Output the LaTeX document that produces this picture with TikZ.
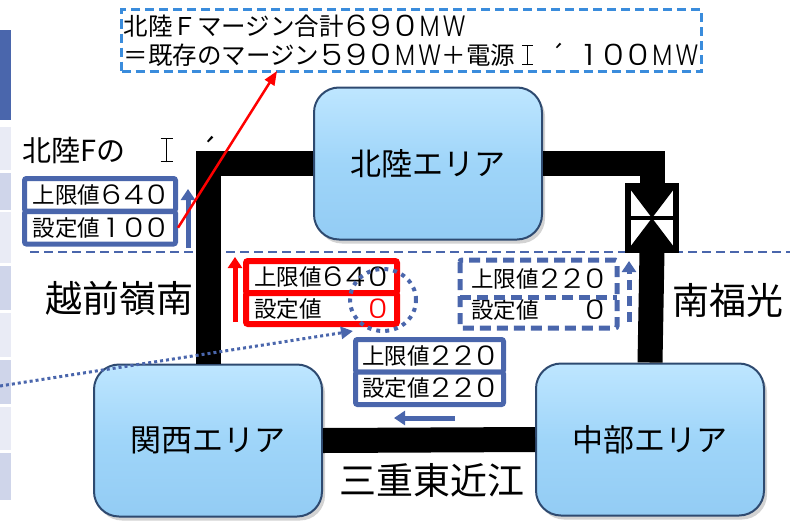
\documentclass[tikz,border=0pt]{standalone}
\usepackage{fontspec}
\usepackage{graphicx}
\setmainfont{Noto Sans CJK JP}
\newfontfamily\digfont{Poppins Light}
\usetikzlibrary{arrows.meta,shadows,shapes.geometric}
\definecolor{frameblue}{HTML}{4A66AC}
\definecolor{noteblue}{HTML}{3A8CDC}
\definecolor{stripdark}{HTML}{CFD5EA}
\definecolor{striplight}{HTML}{E9EBF5}
\definecolor{areaedge}{HTML}{2E4A70}
\definecolor{areatop}{HTML}{BEE6FF}
\definecolor{areamid}{HTML}{9FD5F9}
\definecolor{areabot}{HTML}{93CCF4}
% wide (full-width style) digits and letters
\newcommand\fwd[1]{\makebox[1em][c]{\raisebox{-0.05em}{\scalebox{1.4}[1.2]{\digfont #1}}}}
\newcommand\fwm[1]{\makebox[1em][c]{\raisebox{-0.05em}{\scalebox{0.97}[1.2]{\digfont #1}}}}
\def\fwds#1{\fwdsloop#1\relax}
\def\fwdsloop#1{\ifx#1\relax\else\fwd{#1}\expandafter\fwdsloop\fi}
% roman numeral one with bars
\newcommand\romanI{\makebox[1em][c]{\makebox[0.42em][l]{\rule[-0.03em]{0.42em}{0.05em}\hspace{-0.42em}\rule[0.76em]{0.42em}{0.05em}\hspace{-0.235em}\rule[-0.03em]{0.05em}{0.84em}}}}
\begin{document}
\begin{tikzpicture}[x=1pt,y=-1pt,
  area/.style={rounded corners=25pt, draw=areaedge, line width=2pt,
    top color=areatop, bottom color=areabot, middle color=areamid,
    minimum width=228pt, minimum height=152pt, inner sep=0pt,
    font=\fontsize{31}{31}\selectfont,
    drop shadow={opacity=0.35, shadow xshift=3pt, shadow yshift=-4pt}},
  bus/.style={line width=25pt, black},
  cell/.style={line width=5pt, fill=white, inner sep=0pt, minimum width=151pt,
    minimum height=32.5pt, font=\fontsize{22.5}{22.5}\selectfont, rounded corners=2pt},
  biglabel/.style={font=\fontsize{37}{37}\selectfont, inner sep=0pt},
  fatarrow/.style={line width=5pt, -{Triangle[width=14pt,length=11pt]}}
]
\useasboundingbox (0,0) rectangle (799,522);

% left strip
\fill[frameblue] (0,30) rectangle (11,120);
\fill[striplight] (0,127) rectangle (11,170);
\fill[stripdark] (0,173) rectangle (11,210);
\fill[striplight] (0,212) rectangle (11,263);
\fill[stripdark] (0,266) rectangle (11,310);
\fill[striplight] (0,313) rectangle (11,357);
\fill[stripdark] (0,360) rectangle (11,404);
\fill[striplight] (0,407) rectangle (11,450);
\fill[stripdark] (0,453) rectangle (11,500);

% separator
\coordinate (sepL) at (30,252);
\coordinate (sepR) at (790,252);
\draw[frameblue, line width=2.5pt, dash pattern=on 9pt off 5pt] (sepL) -- (sepR);

% labels
\node[font=\fontsize{29}{29}\selectfont, anchor=west, inner sep=0pt] (lblF) at (22,150)
  {北陸Fの\hspace{27pt}\romanI\hspace{19pt}´};
\node[biglabel] (echizen) at (119,298) {越前嶺南};
\node[biglabel] (minami) at (728,300) {南福光};
\node[biglabel] (mie) at (432,480) {三重東近江};

% areas
\node[area] (hokuriku) at (428,163.5) {北陸エリア};
\node[area] (kansai) at (208,440.5) {関西エリア};
\node[area] (chubu) at (650,439.5) {中部エリア};

% valve
\node[draw, line width=4pt, minimum width=46pt, minimum height=62pt, inner sep=0pt, fill=white] (valve) at (652,218) {};
\fill (valve.north west) -- (valve.north east) -- (valve.south west) -- (valve.south east) -- cycle;
\draw[line width=4pt] (valve.north west) rectangle (valve.south east);
\draw[line width=4pt] (valve.west) -- (valve.east);

% bus lines
\draw[bus] (hokuriku.west) -| (kansai.north);
\draw[bus] (hokuriku.east) -| (valve.north);
\draw[bus] (valve.south) -- (chubu.north);
\draw[bus] (kansai.east) -- (chubu.west);

% note box
\node[draw=noteblue, line width=3pt, dash pattern=on 9pt off 5pt, minimum width=580pt,
  minimum height=62pt, inner sep=0pt, align=left, font=\fontsize{24.5}{29.5}\selectfont]
  (note) at (411.5,40.5)
  {北陸Ｆマージン合計\fwds{690}\fwm{M}\fwm{W}\\＝既存のマージン\fwds{590}\fwm{M}\fwm{W}＋電源\romanI\makebox[1.5em]{´}\fwds{100}\fwm{M}\fwm{W}};

% left box
\node[cell, draw=frameblue] (llim) at (100,194.75) {上限値\fwds{640}};
\node[cell, draw=frameblue] (lset) at (100,227.75) {設定値\fwds{100}};
\coordinate (la0) at (188,248);
\coordinate (la1) at (188,189);
\draw[frameblue, fatarrow] (la0) -- (la1);

% red box
\node[cell, draw=red, line width=6pt, minimum height=32pt] (rlim) at (321.5,277) {上限値\fwds{640}};
\node[cell, draw=red, line width=6pt, minimum height=31pt] (rset) at (321.5,308.5) {設定値　　\textcolor{red}{\fwd{0}}};
\coordinate (ra0) at (235,322);
\coordinate (ra1) at (235,257);
\draw[red, fatarrow] (ra0) -- (ra1);

% blue box
\node[cell, draw=frameblue, minimum width=148pt] (blim) at (429.5,355.75) {上限値\fwds{220}};
\node[cell, draw=frameblue, minimum width=148pt] (bset) at (429.5,388.25) {設定値\fwds{220}};
\coordinate (ba0) at (455,418);
\coordinate (ba1) at (394,418);
\draw[frameblue, fatarrow] (ba0) -- (ba1);

% dashed box
\node[cell, draw=none, minimum width=152pt] (dlim) at (538.5,278.75) {上限値\fwds{220}};
\node[cell, draw=none, minimum width=152pt, minimum height=30.5pt] (dset) at (538.5,310.25) {設定値　　\fwd{0}};
\draw[frameblue, line width=5pt, dash pattern=on 11pt off 6pt, rounded corners=2pt]
  (dlim.north west) rectangle (dset.south east);
\draw[frameblue, line width=5pt, dash pattern=on 11pt off 6pt] (dlim.south west) -- (dlim.south east);
\coordinate (da0) at (629,322);
\coordinate (da1) at (629,261);
\draw[frameblue, line width=5pt, dash pattern=on 10pt off 6pt, -{Triangle[width=14pt,length=11pt]}] (da0) -- (da1);

% dotted circle
\node[ellipse, draw=frameblue, line width=4pt, dash pattern=on 4pt off 5pt,
  minimum width=66pt, minimum height=62pt, inner sep=0pt] (circ) at (383,300) {};

% red pointer arrow
\coordinate (rtip) at (277,71);
\draw[red, line width=2.5pt, -{Triangle[width=11pt,length=14pt]}] (lset.east) -- (rtip);

% dotted pointer
\coordinate (dotstart) at (0,386);
\coordinate (dotend) at (353,331);
\draw[frameblue, line width=3pt, dash pattern=on 3pt off 3pt, -{Triangle[width=12pt,length=12pt]}] (dotstart) -- (dotend);
\end{tikzpicture}
\end{document}
